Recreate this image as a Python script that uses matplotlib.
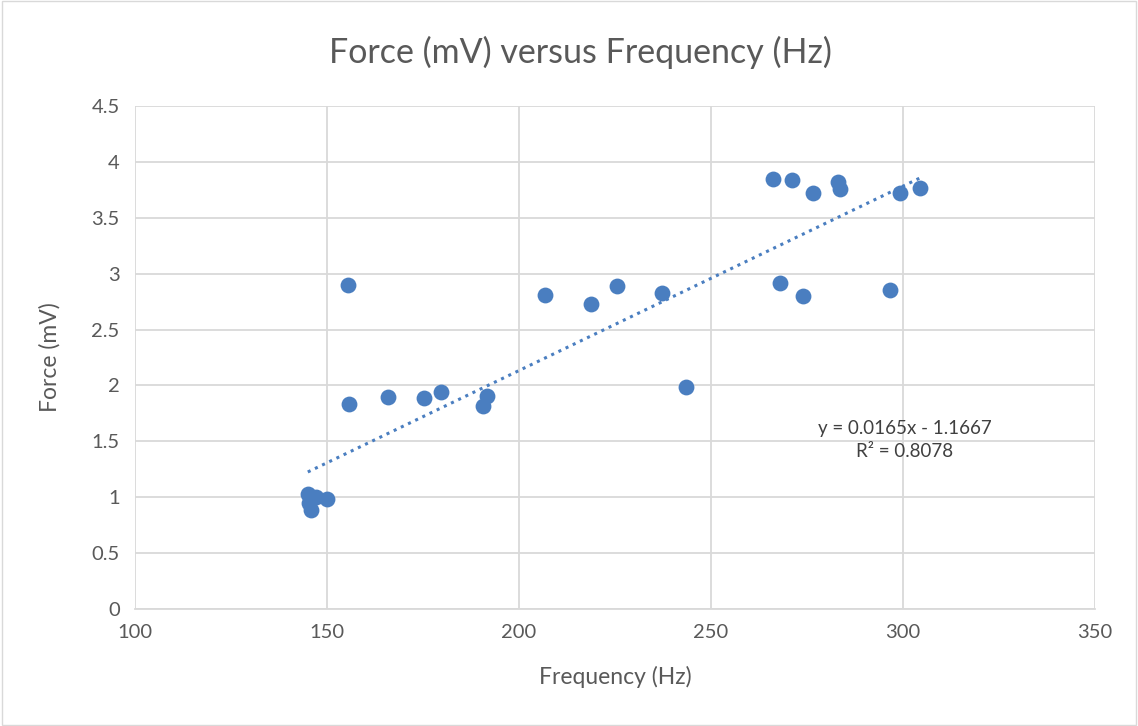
import numpy as np
import matplotlib.pyplot as plt

plt.rcParams['font.family'] = ['Lato', 'DejaVu Sans']

# frequency (Hz) and force (mV)
freq = [145.0, 145.3, 145.8, 147.1, 150.0, 155.5, 155.7, 165.9, 175.3, 179.7,
        190.6, 191.7, 206.8, 218.8, 225.5, 237.2, 243.5, 266.1, 268.0, 271.1,
        274.0, 276.6, 283.1, 283.6, 296.6, 299.2, 304.4]
force = [1.03, 0.95, 0.89, 1.00, 0.98, 2.90, 1.83, 1.90, 1.89, 1.94,
         1.82, 1.91, 2.81, 2.73, 2.89, 2.83, 1.99, 3.85, 2.92, 3.84,
         2.80, 3.72, 3.82, 3.76, 2.85, 3.72, 3.77]

slope, intercept = 0.0165, -1.1667
r2 = 0.8078

fig = plt.figure(figsize=(11.38, 7.26), dpi=100)
ax = fig.add_axes([135 / 1138, 1 - 609 / 726, 960 / 1138, 503 / 726])

ax.scatter(freq, force, s=130, color='#4A7EC0', zorder=3, linewidths=0)

xs = np.array([min(freq), max(freq)])
ax.plot(xs, slope * xs + intercept, linestyle=(0, (1, 1.6)), color='#4A7EC0',
        linewidth=2.2, zorder=2)

fig.text(905 / 1138, 1 - 440 / 726, f'y = {slope}x - {abs(intercept)}\nR² = {r2}',
         ha='center', va='center', fontsize=13.5, color='#404040', linespacing=1.45)

ax.set_xlim(100, 350)
ax.set_ylim(0, 4.5)
ax.set_xticks(np.arange(100, 351, 50))
ax.set_yticks(np.arange(0, 4.51, 0.5))
ax.set_yticklabels(['0', '0.5', '1', '1.5', '2', '2.5', '3', '3.5', '4', '4.5'])
ax.grid(True, color='#d9d9d9', linewidth=1.3)
ax.set_axisbelow(True)
for s in ['top', 'right', 'left']:
    ax.spines[s].set_visible(False)
ax.spines['bottom'].set_color('#d9d9d9')
ax.spines['bottom'].set_linewidth(1.3)
ax.tick_params(length=0, labelsize=14.5, colors='#595959', pad=11)

ax.set_xlabel('Frequency (Hz)', fontsize=16.5, color='#595959', labelpad=18)
ax.set_ylabel('Force (mV)', fontsize=16.5, color='#595959', labelpad=22)
fig.text(580 / 1138, 1 - 52 / 726, 'Force (mV) versus Frequency (Hz)', ha='center', va='center',
         fontsize=24.5, color='#595959')

fig.patches.append(plt.Rectangle((0.002, 0.002), 0.996, 0.996, transform=fig.transFigure,
                                 fill=False, edgecolor='#d9d9d9', linewidth=1))

fig.savefig('out.png', dpi=100)
